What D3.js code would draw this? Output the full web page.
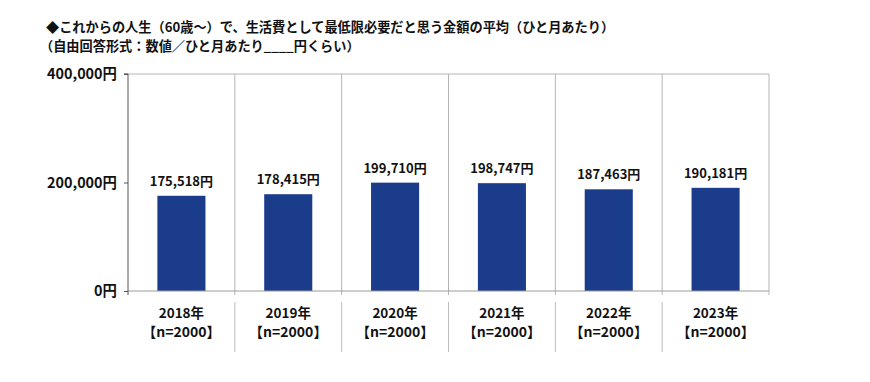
<!DOCTYPE html>
<html><head><meta charset="utf-8">
<script src="https://cdn.jsdelivr.net/npm/d3@7"></script>
<style>
body{margin:0;background:#fff;}
text{font-family:"Noto Sans CJK JP","Noto Sans",sans-serif;font-weight:bold;fill:#111;}
</style></head><body>
<svg id="c" width="870" height="382"></svg>
<script>
const titleLines = ["◆これからの人生（60歳～）で、生活費として最低限必要だと思う金額の平均（ひと月あたり）",
                    "（自由回答形式：数値／ひと月あたり____円くらい）"];
const categories = ["2018年","2019年","2020年","2021年","2022年","2023年"];
const sampleLabels = ["【n=2000】","【n=2000】","【n=2000】","【n=2000】","【n=2000】","【n=2000】"];
const values = [175518,178415,199710,198747,187463,190181];
const yTicks = [0,200000,400000];

const svg = d3.select("#c");
const L=128,R=769,T=74,B=291;
const x = d3.scaleBand().domain(categories).range([L,R]).paddingInner(0).paddingOuter(0);
const y = d3.scaleLinear().domain([0,400000]).range([B,T]);
const fmt = d3.format(",");

// title
svg.selectAll("text.title").data(titleLines).join("text").attr("class","title")
  .attr("x",(d,i)=>i===0?46:40).attr("y",(d,i)=>32+i*19)
  .style("font-size","13.2px").text(d=>d);

// top border line
svg.append("line").attr("x1",L-4).attr("x2",R).attr("y1",y(400000)).attr("y2",y(400000))
  .attr("stroke","#b5b5b5").attr("stroke-width",1);
// right border
svg.append("line").attr("x1",R).attr("x2",R).attr("y1",T).attr("y2",B+4)
  .attr("stroke","#b5b5b5").attr("stroke-width",1);
// category dividers inside plot
const bounds = categories.slice(1).map(c=>x(c));
svg.selectAll("line.div").data(bounds).join("line").attr("class","div")
  .attr("x1",d=>d).attr("x2",d=>d).attr("y1",T).attr("y2",B+4)
  .attr("stroke","#b5b5b5").attr("stroke-width",1);
// dividers below axis
svg.selectAll("line.div2").data(bounds).join("line").attr("class","div2")
  .attr("x1",d=>d).attr("x2",d=>d).attr("y1",B+11).attr("y2",B+61)
  .attr("stroke","#bdbdbd").attr("stroke-width",1);

// bars
const bw = x.bandwidth()*0.45;
svg.selectAll("rect.bar").data(values).join("rect").attr("class","bar")
  .attr("x",(d,i)=>x(categories[i])+x.bandwidth()/2-bw/2)
  .attr("width",bw).attr("y",d=>y(d)).attr("height",d=>B-y(d))
  .attr("fill","#1b3b8b");

// bottom axis line
svg.append("line").attr("x1",L).attr("x2",R).attr("y1",B).attr("y2",B)
  .attr("stroke","#9a9a9a").attr("stroke-width",1);

// y axis
const yAxis = d3.axisLeft(y).tickValues(yTicks).tickSize(4).tickFormat(d=>fmt(d)+"円");
const ga = svg.append("g").attr("transform",`translate(${L},0)`).call(yAxis);
ga.select(".domain").attr("stroke","#555").attr("d",`M-4,${T}H0V${B+4}`);
ga.selectAll(".tick line").attr("stroke","#555");
ga.selectAll(".tick text").style("font-size","14.4px").style("font-family","\"Noto Sans CJK JP\",sans-serif")
  .style("font-weight","bold").attr("fill","#111").attr("x",-11);

// value labels
svg.selectAll("text.val").data(values).join("text").attr("class","val")
  .attr("x",(d,i)=>x(categories[i])+x.bandwidth()/2).attr("y",d=>y(d)-10)
  .attr("text-anchor","middle").style("font-size","13px").text(d=>fmt(d)+"円");

// x labels
svg.selectAll("text.cat").data(categories).join("text").attr("class","cat")
  .attr("x",d=>x(d)+x.bandwidth()/2).attr("y",B+27)
  .attr("text-anchor","middle").style("font-size","13.5px").text(d=>d);
svg.selectAll("text.n").data(sampleLabels).join("text").attr("class","n")
  .attr("x",(d,i)=>x(categories[i])+x.bandwidth()/2).attr("y",B+46)
  .attr("text-anchor","middle").style("font-size","14px").text(d=>d);
</script></body></html>
